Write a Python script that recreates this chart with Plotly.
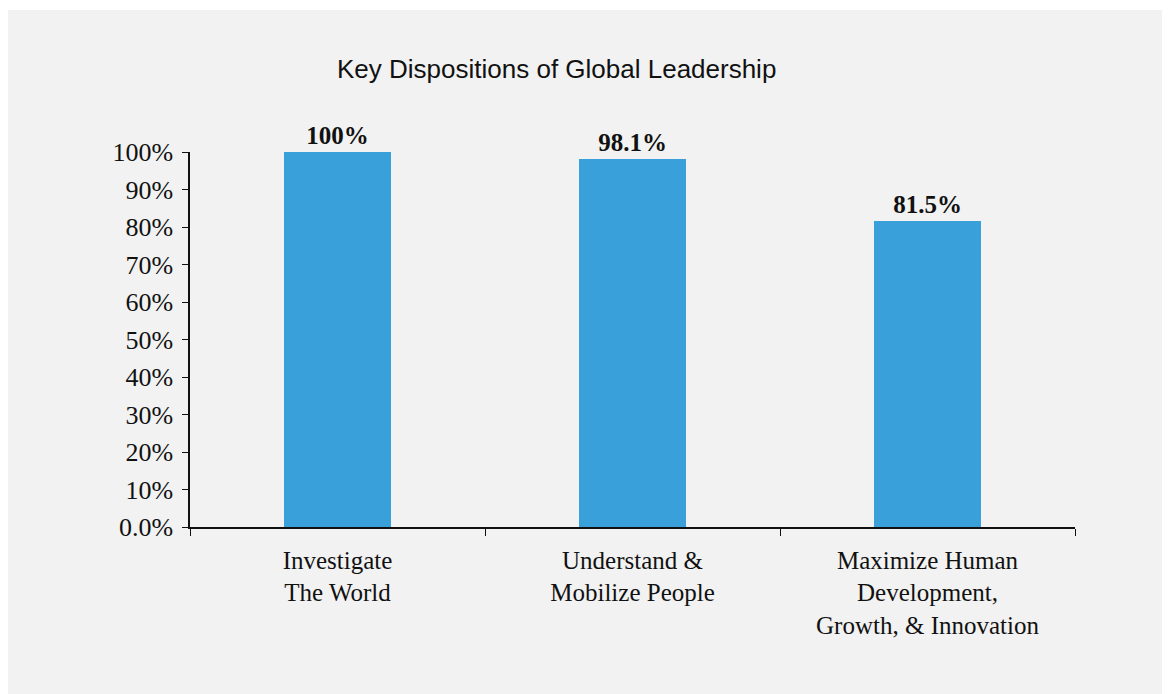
import plotly.graph_objects as go

categories = ["Investigate<br>The World", "Understand &amp;<br>Mobilize People",
              "Maximize Human<br>Development,<br>Growth, &amp; Innovation"]
values = [100, 98.1, 81.5]
value_labels = ["100%", "98.1%", "81.5%"]
tick_vals = [0, 10, 20, 30, 40, 50, 60, 70, 80, 90, 100]
tick_text = ["0.0%", "10%", "20%", "30%", "40%", "50%", "60%", "70%", "80%", "90%", "100%"]
title_text = "Key Dispositions of Global Leadership"

OFF = 8  # page body margin
W, H = 1162, 686
L, R, T = 190 - OFF, 0, 152 - OFF
plot_right, plot_bottom = 1075 - OFF, 527 - OFF
R = W - plot_right
B = H - plot_bottom
pw, ph = W - L - R, H - T - B

def px_x(x):
    return (x - OFF - L) / pw

def px_y(y):
    return (plot_bottom - (y - OFF)) / ph

GRAY = "#f2f2f2"
SERIF = "Liberation Serif, Times New Roman, serif"

fig = go.Figure(go.Bar(
    x=categories, y=values, text=value_labels, textposition="outside",
    textfont=dict(family=SERIF, size=25, color="#111111", weight="bold"),
    marker=dict(color="#3aa0da", line=dict(width=0)),
    width=0.363, cliponaxis=False, hoverinfo="skip",
))

fig.add_shape(type="rect", xref="paper", yref="paper",
              x0=px_x(7), x1=px_x(1170), y0=px_y(700), y1=px_y(10),
              fillcolor=GRAY, line=dict(width=0), layer="below")

fig.add_annotation(text=title_text, xref="paper", yref="paper",
                   x=px_x(556), y=px_y(69), xanchor="center", yanchor="middle",
                   showarrow=False,
                   font=dict(family="Liberation Sans, Arial, sans-serif",
                             size=26, color="#111111"))

fig.update_layout(
    width=W, height=H, margin=dict(l=L, r=R, t=T, b=B, autoexpand=False),
    paper_bgcolor="white", plot_bgcolor=GRAY, showlegend=False,
    bargap=0,
)
fig.update_xaxes(type="category", showline=True, linecolor="#111111", linewidth=1.5,
                 ticks="outside", tickson="boundaries", ticklen=7, tickwidth=1.2,
                 tickcolor="#111111", showgrid=False, zeroline=False,
                 tickfont=dict(family=SERIF, size=25, color="#111111"),
                 ticklabelstandoff=10)
fig.update_yaxes(range=[0, 100], showline=True, linecolor="#111111", linewidth=1.5,
                 ticks="outside", ticklen=6, tickwidth=1.2, tickcolor="#111111",
                 tickvals=tick_vals, ticktext=tick_text, showgrid=False, zeroline=False,
                 tickfont=dict(family=SERIF, size=26, color="#111111"),
                 ticklabelstandoff=4)

fig.write_html("out.html")
